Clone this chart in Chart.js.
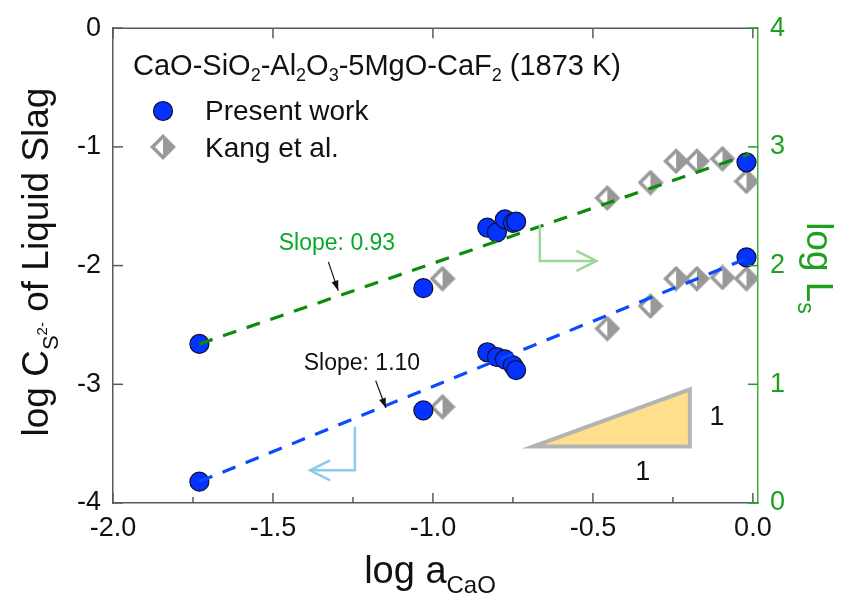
<!DOCTYPE html>
<html>
<head>
<meta charset="utf-8">
<script src="https://cdn.jsdelivr.net/npm/chart.js@4.4.1/dist/chart.umd.min.js"></script>
<style>
  html, body { margin: 0; padding: 0; background: #fff; }
</style>
</head>
<body>
<canvas id="chart" width="848" height="600"></canvas>
<script>
/* ================= DATA ================= */
// x = log a_CaO
const presentX    = [-1.73, -1.03, -0.83, -0.80, -0.775, -0.75, -0.74, -0.02];
const presentLogC = [-3.82, -3.22, -2.73, -2.77, -2.79, -2.84, -2.88, -1.93];
const presentLogL = [1.34, 1.81, 2.32, 2.28, 2.39, 2.36, 2.37, 2.87];

const kangX    = [-0.97, -0.455, -0.32, -0.24, -0.175, -0.095, -0.02];
const kangLogC = [-3.19, -2.53, -2.34, -2.11, -2.11, -2.10, -2.11];
const kangLogL = [1.89, 2.57, 2.70, 2.88, 2.88, 2.90, 2.71];

// dashed fits (end points)
const fitX    = [-1.73, -0.01];
const fitLogC = [-3.82, -1.93];   // slope 1.10
const fitLogL = [1.34, 2.94];     // slope 0.93

const xTicks      = [-2.0, -1.5, -1.0, -0.5, 0.0];
const xMinorTicks = [-1.75, -1.25, -0.75, -0.25];
const logCTicks   = [-4, -3, -2, -1, 0];
const logLTicks   = [0, 1, 2, 3, 4];

/* ================= STYLE ================= */
const FONT = "'Liberation Sans', Arial, sans-serif";
const GREEN_AXIS = '#1ea01e';
const GREEN_LINE = '#0b8c0b';
const BLUE_LINE = '#0a4bff';
const AXIS_GRAY = '#5a5a5a';

// annotations, in (log a_CaO, log C) coordinates
const notes = {
  slopeL: { text: 'Slope: 0.93', at: [-1.30, -1.817], from: [-1.327, -1.969], to: [-1.296, -2.211], color: '#08a82a' },
  slopeC: { text: 'Slope: 1.10', at: [-1.222, -2.825], from: [-1.179, -2.969], to: [-1.147, -3.20], color: '#111' },
  arrowL: { pts: [[-0.666, -1.656], [-0.666, -1.961], [-0.489, -1.961]], color: '#9dd89a' },
  arrowC: { pts: [[-1.244, -3.358], [-1.244, -3.725], [-1.384, -3.725]], color: '#8ccbed' },
  triangle: { pts: [[-0.6875, -3.525], [-0.197, -3.525], [-0.197, -3.042]] },
  triLabels: [[-0.112, -3.283], [-0.344, -3.742]]
};

function makeDiamond() {
  const c = document.createElement('canvas');
  c.width = c.height = 26;
  const g = c.getContext('2d');
  const m = 13, r = 10.5;
  g.beginPath(); g.moveTo(m, m - r); g.lineTo(m + r, m); g.lineTo(m, m + r); g.closePath();
  g.fillStyle = '#999'; g.fill();
  g.beginPath(); g.moveTo(m, m - r); g.lineTo(m - r, m); g.lineTo(m, m + r); g.closePath();
  g.fillStyle = '#fff'; g.fill();
  g.beginPath(); g.moveTo(m, m - r); g.lineTo(m + r, m); g.lineTo(m, m + r); g.lineTo(m - r, m); g.closePath();
  g.lineWidth = 3.5; g.strokeStyle = '#999'; g.stroke();
  return c;
}
const diamond = makeDiamond();

const toPts = (xs, ys) => xs.map((x, i) => ({ x, y: ys[i] }));

/* ================= HELPERS ================= */
function richText(ctx, parts, size, x, y, align, color) {
  const fontOf = p => `${Math.round(size * (p.k || 1))}px ${FONT}`;
  let w = 0;
  parts.forEach(p => { ctx.font = fontOf(p); w += ctx.measureText(p.t).width; });
  let cx = align === 'center' ? x - w / 2 : x;
  ctx.fillStyle = color;
  ctx.textAlign = 'left';
  ctx.textBaseline = 'alphabetic';
  parts.forEach(p => {
    ctx.font = fontOf(p);
    ctx.fillText(p.t, cx, y + (p.dy || 0) * size);
    cx += ctx.measureText(p.t).width;
  });
}

function seg(ctx, x1, y1, x2, y2) {
  ctx.beginPath(); ctx.moveTo(x1, y1); ctx.lineTo(x2, y2); ctx.stroke();
}

const decor = {
  id: 'decor',
  afterDraw(chart) {
    const { ctx, chartArea: a, scales } = chart;
    const X = v => scales.x.getPixelForValue(v);
    const YC = v => scales.yC.getPixelForValue(v);
    const YL = v => scales.yL.getPixelForValue(v);
    ctx.save();

    // frame + inner ticks
    ctx.lineWidth = 1.5;
    ctx.strokeStyle = AXIS_GRAY;
    seg(ctx, a.left, a.top, a.right, a.top);
    xTicks.forEach(v => { seg(ctx, X(v), a.bottom, X(v), a.bottom - 10); seg(ctx, X(v), a.top, X(v), a.top + 10); });
    xMinorTicks.forEach(v => seg(ctx, X(v), a.bottom, X(v), a.bottom - 6));
    logCTicks.forEach(v => seg(ctx, a.left, YC(v), a.left + 10, YC(v)));
    ctx.strokeStyle = GREEN_AXIS;
    logLTicks.forEach(v => seg(ctx, a.right, YL(v), a.right - 10, YL(v)));

    // slope-1 triangle
    const t = notes.triangle.pts.map(p => [X(p[0]), YC(p[1])]);
    ctx.beginPath(); ctx.moveTo(t[0][0], t[0][1]); ctx.lineTo(t[1][0], t[1][1]); ctx.lineTo(t[2][0], t[2][1]); ctx.closePath();
    ctx.fillStyle = '#fddf8c'; ctx.fill();
    ctx.lineWidth = 4; ctx.strokeStyle = '#b4b4b4'; ctx.lineJoin = 'miter'; ctx.stroke();
    ctx.font = `27px ${FONT}`; ctx.fillStyle = '#111'; ctx.textAlign = 'center'; ctx.textBaseline = 'middle';
    notes.triLabels.forEach(p => ctx.fillText('1', X(p[0]), YC(p[1])));

    // axis-direction arrows
    [notes.arrowL, notes.arrowC].forEach(ar => {
      const p = ar.pts.map(q => [X(q[0]), YC(q[1])]);
      ctx.strokeStyle = ar.color; ctx.lineWidth = 2.5; ctx.lineJoin = 'miter';
      ctx.beginPath(); ctx.moveTo(p[0][0], p[0][1]); ctx.lineTo(p[1][0], p[1][1]); ctx.lineTo(p[2][0], p[2][1]); ctx.stroke();
      const dir = Math.sign(p[2][0] - p[1][0]);
      ctx.beginPath();
      ctx.moveTo(p[2][0] - dir * 20, p[2][1] - 10); ctx.lineTo(p[2][0], p[2][1]); ctx.lineTo(p[2][0] - dir * 20, p[2][1] + 10);
      ctx.stroke();
    });

    // slope labels with pointer arrows
    [notes.slopeL, notes.slopeC].forEach(n => {
      ctx.font = `23px ${FONT}`; ctx.fillStyle = n.color; ctx.textAlign = 'center'; ctx.textBaseline = 'middle';
      ctx.fillText(n.text, X(n.at[0]), YC(n.at[1]));
      const x1 = X(n.from[0]), y1 = YC(n.from[1]), x2 = X(n.to[0]), y2 = YC(n.to[1]);
      ctx.strokeStyle = '#111'; ctx.lineWidth = 1.2;
      seg(ctx, x1, y1, x2, y2);
      const ang = Math.atan2(y2 - y1, x2 - x1);
      ctx.beginPath();
      ctx.moveTo(x2, y2);
      ctx.lineTo(x2 - 10 * Math.cos(ang) + 3.5 * Math.sin(ang), y2 - 10 * Math.sin(ang) - 3.5 * Math.cos(ang));
      ctx.lineTo(x2 - 10 * Math.cos(ang) - 3.5 * Math.sin(ang), y2 - 10 * Math.sin(ang) + 3.5 * Math.cos(ang));
      ctx.closePath(); ctx.fillStyle = '#111'; ctx.fill();
    });

    // legend
    const sub = t => ({ t, k: 0.62, dy: 0.22 });
    richText(ctx, [{ t: 'CaO-SiO' }, sub('2'), { t: '-Al' }, sub('2'), { t: 'O' }, sub('3'),
      { t: '-5MgO-CaF' }, sub('2'), { t: ' (1873 K)' }], 29, 133, 75, 'left', '#111');
    ctx.beginPath(); ctx.arc(163, 111, 9.5, 0, Math.PI * 2);
    ctx.fillStyle = '#0433ff'; ctx.fill(); ctx.lineWidth = 1.2; ctx.strokeStyle = '#101030'; ctx.stroke();
    ctx.drawImage(diamond, 163 - 13, 147 - 13);
    richText(ctx, [{ t: 'Present work' }], 28, 205, 120, 'left', '#111');
    richText(ctx, [{ t: 'Kang et al.' }], 28, 205, 157, 'left', '#111');

    // axis titles
    richText(ctx, [{ t: 'log a' }, { t: 'CaO', k: 0.62, dy: 0.25 }], 38, 430, 583, 'center', '#111');
    ctx.save();
    ctx.translate(35, 262); ctx.rotate(-Math.PI / 2);
    richText(ctx, [{ t: 'log C' }, { t: 'S', k: 0.6, dy: 0.27 }, { t: '2-', k: 0.4, dy: -0.02 },
      { t: ' of Liquid Slag' }], 37, 0, 13, 'center', '#111');
    ctx.restore();
    ctx.save();
    ctx.translate(820, 268); ctx.rotate(Math.PI / 2);
    richText(ctx, [{ t: 'log L' }, { t: 's', k: 0.62, dy: 0.25 }], 37, 0, 13, 'center', GREEN_AXIS);
    ctx.restore();

    ctx.restore();
  }
};

/* ================= CHART ================= */
const circleStyle = {
  pointStyle: 'circle', pointRadius: 9.5, pointBackgroundColor: '#0433ff',
  pointBorderColor: '#101030', pointBorderWidth: 1.2, showLine: false
};
const diamondStyle = { pointStyle: diamond, pointRadius: 12, showLine: false };
const fitStyle = { type: 'line', borderWidth: 3.2, borderDash: [14, 11], pointRadius: 0, fill: false, order: 0 };

new Chart(document.getElementById('chart'), {
  type: 'scatter',
  data: {
    datasets: [
      { ...fitStyle, label: 'fit log L', data: toPts(fitX, fitLogL), yAxisID: 'yL', borderColor: GREEN_LINE },
      { ...fitStyle, label: 'fit log C', data: toPts(fitX, fitLogC), yAxisID: 'yC', borderColor: BLUE_LINE },
      { ...diamondStyle, label: 'Kang et al. (Ls)', data: toPts(kangX, kangLogL), yAxisID: 'yL', order: 2 },
      { ...diamondStyle, label: 'Kang et al.', data: toPts(kangX, kangLogC), yAxisID: 'yC', order: 2 },
      { ...circleStyle, label: 'Present work (Ls)', data: toPts(presentX, presentLogL), yAxisID: 'yL', order: 1 },
      { ...circleStyle, label: 'Present work', data: toPts(presentX, presentLogC), yAxisID: 'yC', order: 1 }
    ]
  },
  options: {
    responsive: false,
    devicePixelRatio: 1,
    animation: false,
    layout: { padding: { top: 23, left: 0, right: 0, bottom: 0 } },
    plugins: { legend: { display: false }, tooltip: { enabled: false } },
    scales: {
      x: {
        type: 'linear', min: -2, max: 0.016,
        afterBuildTicks: s => { s.ticks = xTicks.map(v => ({ value: v })); },
        afterFit: s => { s.height = 97; },
        ticks: { callback: v => v.toFixed(1), font: { family: FONT, size: 27 }, color: '#111',
                 padding: 9, maxRotation: 0, autoSkip: false },
        grid: { display: false, drawTicks: false },
        border: { display: true, color: AXIS_GRAY, width: 1.5 }
      },
      yC: {
        type: 'linear', position: 'left', min: -4, max: 0,
        afterBuildTicks: s => { s.ticks = logCTicks.map(v => ({ value: v })); },
        afterFit: s => { s.width = 113; },
        ticks: { callback: v => String(v), font: { family: FONT, size: 27 }, color: '#111', padding: 12 },
        grid: { display: false, drawTicks: false },
        border: { display: true, color: AXIS_GRAY, width: 1.5 }
      },
      yL: {
        type: 'linear', position: 'right', min: 0, max: 4,
        afterBuildTicks: s => { s.ticks = logLTicks.map(v => ({ value: v })); },
        afterFit: s => { s.width = 90; },
        ticks: { callback: v => String(v), font: { family: FONT, size: 27 }, color: GREEN_AXIS, padding: 12 },
        grid: { display: false, drawTicks: false },
        border: { display: true, color: '#3fae3f', width: 1.5 }
      }
    }
  },
  plugins: [decor]
});
</script>
</body>
</html>
